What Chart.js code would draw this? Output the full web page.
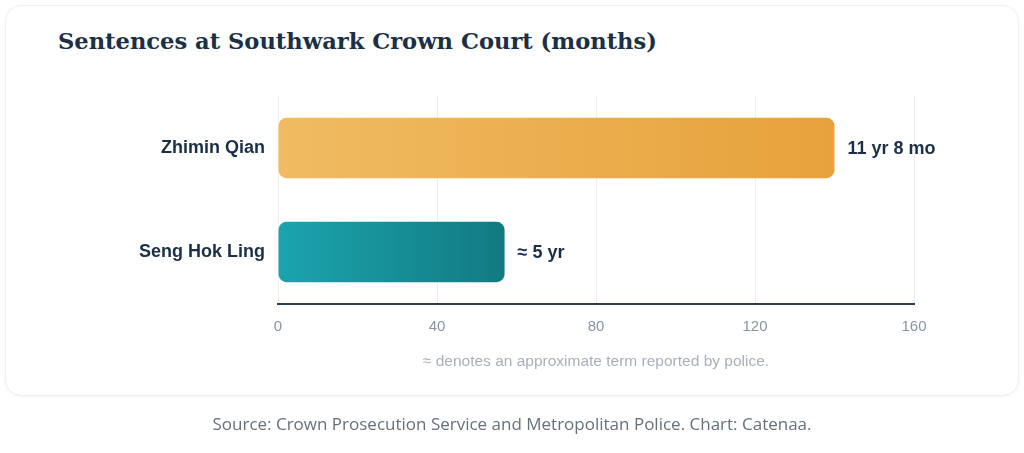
<!DOCTYPE html>
<html>
<head>
<meta charset="utf-8">
<script src="https://cdn.jsdelivr.net/npm/chart.js@4"></script>
<style>
  html, body { margin: 0; padding: 0; background: #ffffff; }
  body { width: 1024px; height: 453px; position: relative; overflow: hidden; }
  .card {
    position: absolute; left: 5px; top: 5px; width: 1012px; height: 389px;
    border: 1px solid #eceff2; border-radius: 16px; background: #fff;
    box-shadow: 0 1px 3px rgba(20, 40, 60, 0.04);
  }
  .title {
    position: absolute; left: 58px; top: 28px; margin: 0;
    font-family: "DejaVu Serif", serif; font-weight: bold; font-size: 22.6px;
    color: #1b2f45; white-space: nowrap;
  }
  .note {
    position: absolute; left: 278px; width: 636px; top: 352px; text-align: center;
    font-family: "Liberation Sans", Arial, sans-serif; font-size: 15.5px; color: #a9b0b8;
  }
  .source {
    position: absolute; left: 0; width: 1024px; top: 412px; text-align: center;
    font-family: "Open Sans", sans-serif; font-size: 17px; color: #66717c;
  }
  #wrap { position: absolute; left: 0; top: 0; width: 1024px; height: 453px; }
</style>
</head>
<body>
<div class="card"></div>
<h1 class="title">Sentences at Southwark Crown Court (months)</h1>
<div id="wrap"><canvas id="barchart"></canvas></div>
<div class="note">≈ denotes an approximate term reported by police.</div>
<div class="source">Source: Crown Prosecution Service and Metropolitan Police. Chart: Catenaa.</div>

<script>
const offenders = ["Zhimin Qian", "Seng Hok Ling"];
const sentenceMonths = [140, 57];
const sentenceLabels = ["11 yr 8 mo", "≈ 5 yr"];
const axisTicks = [0, 40, 80, 120, 160];

const gradientStops = [
    ["#f0bb62", "#e7a23b"],
    ["#1ba4ae", "#127a81"]
];

function barGradient(context) {
    const chart = context.chart;
    const area = chart.chartArea;
    if (!area) return gradientStops[context.dataIndex][0];
    const x = chart.scales.x;
    const end = x.getPixelForValue(sentenceMonths[context.dataIndex]);
    const g = chart.ctx.createLinearGradient(area.left, 0, end, 0);
    g.addColorStop(0, gradientStops[context.dataIndex][0]);
    g.addColorStop(1, gradientStops[context.dataIndex][1]);
    return g;
}

// value labels at the end of each bar
const endLabels = {
    id: "endLabels",
    afterDatasetsDraw(chart) {
        const ctx = chart.ctx;
        const meta = chart.getDatasetMeta(0);
        ctx.save();
        ctx.font = "bold 18px 'Liberation Sans', Arial, sans-serif";
        ctx.fillStyle = "#1b2f45";
        ctx.textBaseline = "middle";
        ctx.textAlign = "left";
        meta.data.forEach((bar, i) => {
            ctx.fillText(sentenceLabels[i], bar.x + 13, bar.y + 1);
        });
        ctx.restore();
    }
};

document.addEventListener("DOMContentLoaded", function () {
    const barchart = document.getElementById("barchart");
    new Chart(barchart.getContext("2d"), {
        type: "bar",
        data: {
            labels: offenders,
            datasets: [{
                data: sentenceMonths,
                backgroundColor: barGradient,
                borderRadius: 8,
                borderSkipped: false,
                barPercentage: 0.58,
                categoryPercentage: 1
            }]
        },
        options: {
            indexAxis: "y",
            responsive: true,
            maintainAspectRatio: false,
            animation: false,
            layout: { padding: { top: 96, right: 110, left: 0, bottom: 0 } },
            plugins: {
                legend: { display: false },
                tooltip: { enabled: false }
            },
            scales: {
                x: {
                    min: 0,
                    max: 160,
                    afterBuildTicks: (s) => { s.ticks = axisTicks.map(v => ({ value: v })); },
                    afterFit: (s) => { s.height = 149; },
                    grid: { color: "#eceff1", lineWidth: 1, drawTicks: false },
                    border: { display: true, color: "#2a3d4f", width: 2 },
                    ticks: {
                        padding: 14,
                        color: "#8a959f",
                        font: { family: "'Liberation Sans', Arial, sans-serif", size: 15 }
                    }
                },
                y: {
                    afterFit: (s) => { s.width = 278; },
                    grid: { display: false, drawTicks: false },
                    border: { display: false },
                    ticks: {
                        padding: 13,
                        color: "#1b2f45",
                        font: { family: "'Liberation Sans', Arial, sans-serif", size: 18, weight: "bold" }
                    }
                }
            }
        },
        plugins: [endLabels]
    });
});
</script>
</body>
</html>
